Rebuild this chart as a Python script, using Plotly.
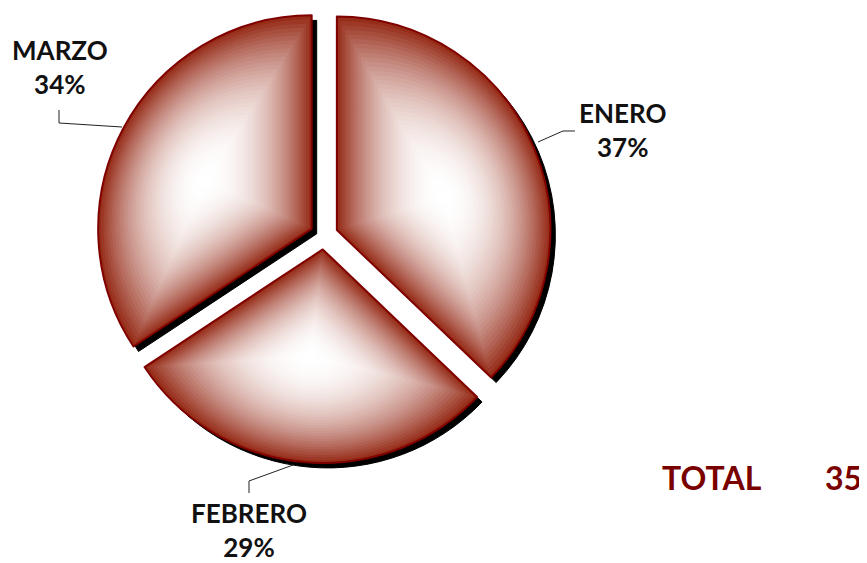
import math
import plotly.graph_objects as go

months = ["ENERO", "FEBRERO", "MARZO"]
counts = [13, 10, 12]
total_label = "TOTAL"

total = sum(counts)
pcts = [round(100 * c / total) for c in counts]

W, H = 867, 563
OFF = 8  # page body margin


def px(x, y):
    """screen pixel -> paper coords"""
    return (x - OFF) / W, 1 - (y - OFF) / H


# pie geometry (figure pixels)
PULL = 0.0655
CX, CY = 316.0, 227.5
HS = 227.5                      # half size of square domain
R = HS / (1 + PULL)
EDGE = (150, 45, 25)
NLEV = 40
GAMMA = 2.2


def dom(cx, cy, hs):
    return dict(x=[(cx - hs) / W, (cx + hs) / W], y=[1 - (cy + hs) / H, 1 - (cy - hs) / H])


# slice angles (clockwise from north) and bounding-box centres
fracs = [c / total for c in counts]
starts, a = [], 0.0
for f in fracs:
    starts.append(a)
    a += f * 360
centres = []
for f, a0 in zip(fracs, starts):
    a1 = a0 + f * 360
    mid = math.radians((a0 + a1) / 2)
    ox, oy = CX + PULL * R * math.sin(mid), CY - PULL * R * math.cos(mid)
    angs = [a0, a1] + [k for k in (0, 90, 180, 270, 360) if a0 < k < a1]
    xs = [ox] + [ox + R * math.sin(math.radians(t)) for t in angs]
    ys = [oy] + [oy - R * math.cos(math.radians(t)) for t in angs]
    centres.append(((min(xs) + max(xs)) / 2, (min(ys) + max(ys)) / 2))

common = dict(labels=months, values=counts, sort=False, direction="clockwise", rotation=0,
              pull=[PULL] * 3, textinfo="none", hoverinfo="skip", showlegend=False)
clear = "rgba(0,0,0,0)"

fig = go.Figure()
# shadow
fig.add_trace(go.Pie(**common, marker=dict(colors=["#000000"] * 3, line=dict(color="#000000", width=1)),
                     domain=dom(CX + 5, CY + 5, HS)))
# base
edge_hex = "rgb(%d,%d,%d)" % EDGE
fig.add_trace(go.Pie(**common, marker=dict(colors=[edge_hex] * 3, line=dict(width=0)),
                     domain=dom(CX, CY, HS)))
# gradient levels
for i in range(len(months)):
    px_, py_ = centres[i]
    for k in range(1, NLEV):
        s = 1 - k / NLEV
        f = s ** GAMMA
        col = "rgb(%d,%d,%d)" % tuple(round(255 * (1 - f) + e * f) for e in EDGE)
        cols = [clear] * 3
        cols[i] = col
        cx = CX + (1 - s) * (px_ - CX)
        cy = CY + (1 - s) * (py_ - CY)
        fig.add_trace(go.Pie(**common, marker=dict(colors=cols, line=dict(width=0)),
                             domain=dom(cx, cy, s * HS)))
# outline
fig.add_trace(go.Pie(**common, marker=dict(colors=[clear] * 3, line=dict(color="#800000", width=2)),
                     domain=dom(CX, CY, HS)))

label_pos = {"ENERO": (622, 130), "FEBRERO": (249, 530), "MARZO": (60, 67)}
for m, p in zip(months, pcts):
    x, y = px(*label_pos[m])
    fig.add_annotation(x=x, y=y, xref="paper", yref="paper", xanchor="center", yanchor="middle",
                       text="<b>%s<br>%d%%</b>" % (m, p), showarrow=False,
                       font=dict(family="Lato", size=26, color="#111111"), align="center")

leaders = {
    "MARZO": [(59, 110), (59, 123), (122, 127)],
    "ENERO": [(575, 131), (563, 131), (538, 142)],
    "FEBRERO": [(249, 493), (249, 481), (293, 465)],
}
for m in months:
    pts = [px(*q) for q in leaders[m]]
    path = "M %f %f " % pts[0] + " ".join("L %f %f" % q for q in pts[1:])
    fig.add_shape(type="path", path=path, xref="paper", yref="paper",
                  line=dict(color="#222222", width=1))

for txt, (x, y) in (("<b>%s</b>" % total_label, (712, 477)), ("<b>%d</b>" % total, (843, 477))):
    xx, yy = px(x, y)
    fig.add_annotation(x=xx, y=yy, xref="paper", yref="paper", xanchor="center", yanchor="middle",
                       text=txt, showarrow=False, font=dict(family="Lato", size=32, color="#7a0000"))

fig.update_layout(width=W, height=H, margin=dict(l=0, r=0, t=0, b=0),
                  paper_bgcolor="white", plot_bgcolor="white", font=dict(family="Lato"))
fig.write_html("out.html")
